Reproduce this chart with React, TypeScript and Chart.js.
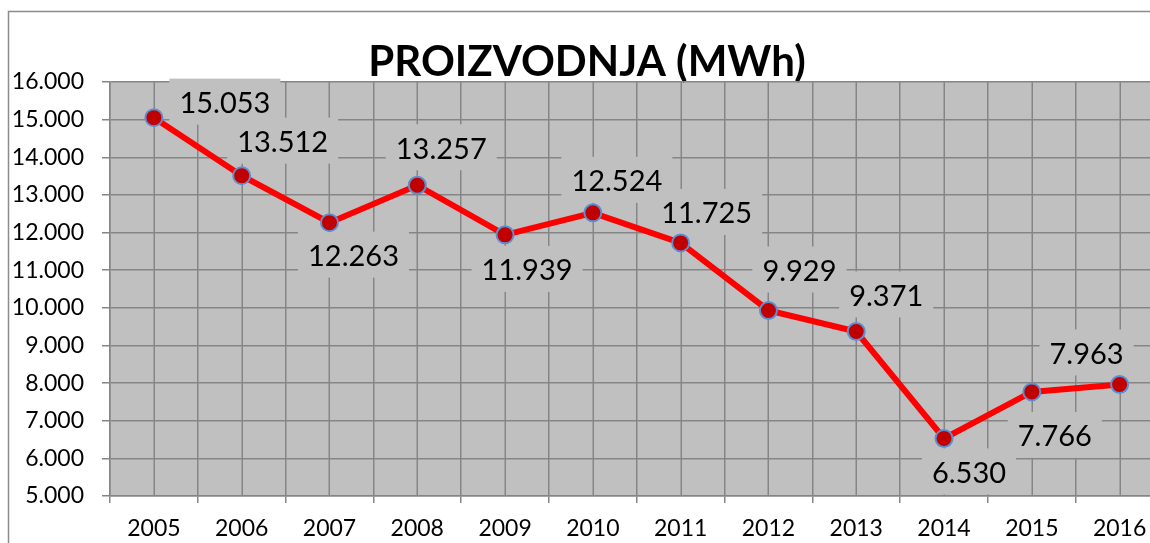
import React, { useEffect, useRef } from "react";
import { Chart, registerables } from "chart.js";

Chart.register(...registerables);

// ---- data ----
const years = ["2005", "2006", "2007", "2008", "2009", "2010", "2011", "2012", "2013", "2014", "2015", "2016"];
const production = [15053, 13512, 12263, 13257, 11939, 12524, 11725, 9929, 9371, 6530, 7766, 7963];
const yMin = 5000;
const yMax = 16000;
const titleText = "PROIZVODNJA (MWh)";

// label placement (offset from the point, px) — style only
const labelOffsets: [number, number][] = [
  [71, -15], [41, -34], [24, 33], [24, -37], [22, 35], [24, -32],
  [26, -30], [31, -40], [30, -36], [25, 34], [23, 44], [-33, -31],
];

const CANVAS_W = 1174;
const CANVAS_H = 560;
const PLOT_BG = "#c0c0c0";
const GRID = "#858585";
const MINOR = "#b2b2b2";
const FONT = "Lato, 'Open Sans', sans-serif";
const LABEL_SIZE = 29;

const fmt = (n: number) => {
  const t = Math.floor(n / 1000);
  const r = Math.round(n % 1000);
  return t > 0 ? `${t}.${String(r).padStart(3, "0")}` : String(r);
};

const framePlugin = {
  id: "frame",
  beforeDraw(chart: any) {
    const { ctx, chartArea } = chart;
    ctx.save();
    ctx.fillStyle = "#ffffff";
    ctx.fillRect(0, 0, chart.width, chart.height);
    ctx.strokeStyle = "#8c8c8c";
    ctx.lineWidth = 1.5;
    ctx.beginPath();
    ctx.moveTo(8.5, chart.height + 5);
    ctx.lineTo(8.5, 11.5);
    ctx.lineTo(chart.width + 5, 11.5);
    ctx.stroke();
    ctx.fillStyle = PLOT_BG;
    ctx.fillRect(chartArea.left, chartArea.top, chartArea.right - chartArea.left, chartArea.bottom - chartArea.top);
    ctx.fillStyle = "#000000";
    ctx.font = `bold 42px ${FONT}`;
    ctx.textAlign = "center";
    ctx.textBaseline = "alphabetic";
    ctx.fillText(titleText, 587, 76);
    ctx.restore();
  },
  beforeDatasetsDraw(chart: any) {
    const { ctx, chartArea } = chart;
    const xs = chart.scales.x;
    ctx.save();
    ctx.strokeStyle = GRID;
    ctx.lineWidth = 1.5;
    for (let i = 0; i < years.length; i++) {
      const x = Math.round(xs.getPixelForValue(i)) + 0.25;
      ctx.beginPath();
      ctx.moveTo(x, chartArea.top);
      ctx.lineTo(x, chartArea.bottom);
      ctx.stroke();
    }
    // label boxes (under the line)
    const meta = chart.getDatasetMeta(0);
    ctx.font = `${LABEL_SIZE}px ${FONT}`;
    meta.data.forEach((pt: any, i: number) => {
      const [dx, dy] = labelOffsets[i];
      const cx = pt.x + dx;
      const cy = pt.y + dy;
      const w = ctx.measureText(fmt(production[i])).width + 20;
      const h = 46;
      ctx.fillStyle = PLOT_BG;
      ctx.fillRect(cx - w / 2, cy - h / 2 - 1, w, h);
    });
    ctx.restore();
  },
};

const labelPlugin = {
  id: "pointLabels",
  afterDatasetsDraw(chart: any) {
    const { ctx } = chart;
    const meta = chart.getDatasetMeta(0);
    ctx.save();
    ctx.font = `${LABEL_SIZE}px ${FONT}`;
    ctx.textAlign = "center";
    ctx.textBaseline = "alphabetic";
    ctx.fillStyle = "#000000";
    meta.data.forEach((pt: any, i: number) => {
      const [dx, dy] = labelOffsets[i];
      ctx.fillText(fmt(production[i]), pt.x + dx, pt.y + dy + LABEL_SIZE * 0.36);
    });
    ctx.restore();
  },
};

export default function App() {
  const ref = useRef<HTMLCanvasElement | null>(null);

  useEffect(() => {
    if (!ref.current) return;
    const chart = new Chart(ref.current, {
      type: "line",
      data: {
        labels: years,
        datasets: [
          {
            data: production,
            borderColor: "#ff0000",
            borderWidth: 6,
            pointRadius: 8.5,
            pointHoverRadius: 8.5,
            pointBackgroundColor: "#c00000",
            pointBorderColor: "#5b8fd0",
            pointBorderWidth: 2,
            tension: 0,
            fill: false,
          },
        ],
      },
      options: {
        responsive: false,
        animation: false,
        devicePixelRatio: 1,
        layout: { padding: { top: 82, right: CANVAS_W - 1166, left: 0, bottom: 0 } },
        plugins: { legend: { display: false }, tooltip: { enabled: false }, title: { display: false } },
        scales: {
          x: {
            type: "category",
            offset: true,
            grid: {
              offset: true,
              color: GRID,
              lineWidth: 1.5,
              tickLength: 7,
              tickColor: GRID,
            },
            border: { color: GRID, width: 1.5 },
            ticks: { color: "#000000", font: { family: FONT, size: 23 }, padding: 12, maxRotation: 0, autoSkip: false },
            afterFit: (s: any) => {
              s.height = CANVAS_H - 496;
            },
          },
          y: {
            min: yMin,
            max: yMax,
            ticks: {
              stepSize: 500,
              color: "#000000",
              font: { family: FONT, size: 23 },
              padding: 18,
              callback: (v: any) => (Number(v) % 1000 === 0 ? fmt(Number(v)) : ""),
            },
            grid: {
              color: (c: any) => (c.tick && c.tick.value % 1000 === 0 ? GRID : MINOR),
              lineWidth: 1.5,
              tickLength: 8,
              tickColor: (c: any) => (c.tick && c.tick.value % 1000 === 0 ? GRID : "rgba(0,0,0,0)"),
            },
            border: { color: GRID, width: 1.5 },
            afterFit: (s: any) => {
              s.width = 110;
            },
          },
        },
      },
      plugins: [framePlugin, labelPlugin],
    });
    return () => chart.destroy();
  }, []);

  return (
    <div style={{ position: "absolute", left: 0, top: 0, width: 1150, height: 543, overflow: "hidden", background: "#fff" }}>
      <canvas ref={ref} width={CANVAS_W} height={CANVAS_H} style={{ width: CANVAS_W, height: CANVAS_H, display: "block" }} />
    </div>
  );
}
